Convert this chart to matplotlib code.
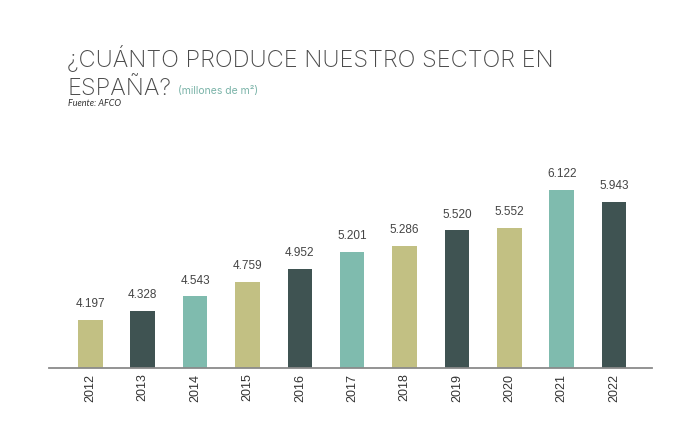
import matplotlib
matplotlib.use("Agg")
import matplotlib.pyplot as plt

# DATA ########################################################################

years = ["2012", "2013", "2014", "2015", "2016", "2017",
         "2018", "2019", "2020", "2021", "2022"]
values = [4.197, 4.328, 4.543, 4.759, 4.952, 5.201,
          5.286, 5.520, 5.552, 6.122, 5.943]
value_labels = ["4.197", "4.328", "4.543", "4.759", "4.952", "5.201",
                "5.286", "5.520", "5.552", "6.122", "5.943"]

olive, dark, teal = "#c2c083", "#3f5352", "#7fbbae"
bar_colors = [olive, dark, teal, olive, dark, teal,
              olive, dark, olive, teal, dark]

# PLOT ########################################################################

fig = plt.figure(figsize=(7, 4.34), dpi=100)
ax = fig.add_axes([0.07, 0.152, 0.861, 0.454])

x = list(range(len(years)))
ax.bar(x, values, width=0.47, color=bar_colors, bottom=0)

for xi, v, lab in zip(x, values, value_labels):
    ax.annotate(lab, (xi, v), xytext=(0, 7), textcoords="offset points",
                ha="center", va="bottom", fontsize=8.5, color="#444444",
                family="Liberation Sans")

ax.set_xlim(-0.79, 10.72)
ax.set_ylim(3.48, 6.4)

ax.set_xticks(x)
ax.set_xticklabels(years, rotation=90, fontsize=9, color="#333333",
                   family="Liberation Sans")
ax.tick_params(axis="x", length=0, pad=4)
ax.set_yticks([])

for side in ["top", "right", "left"]:
    ax.spines[side].set_visible(False)
ax.spines["bottom"].set_color("#8a8a8a")
ax.spines["bottom"].set_linewidth(1.3)

# Titles
title_kw = dict(fontsize=17.0, family="Inter", weight="light", color="#4a4a4a",
                va="baseline", ha="left")
fig.text(67 / 700, 1 - 67 / 434, "¿CUÁNTO PRODUCE NUESTRO SECTOR EN", **title_kw)
fig.text(67 / 700, 1 - 95 / 434, "ESPAÑA?", **title_kw)
fig.text(178 / 700, 1 - 94 / 434, "(millones de m²)",
         fontsize=7.5, family="Inter", weight="normal", color="#7ab3a8",
         va="baseline", ha="left")
fig.text(68 / 700, 1 - 106 / 434, "Fuente: AFCO",
         fontsize=6.5, family="Lato", style="italic", color="#333333",
         va="baseline", ha="left")

fig.savefig("out.png", dpi=100)
